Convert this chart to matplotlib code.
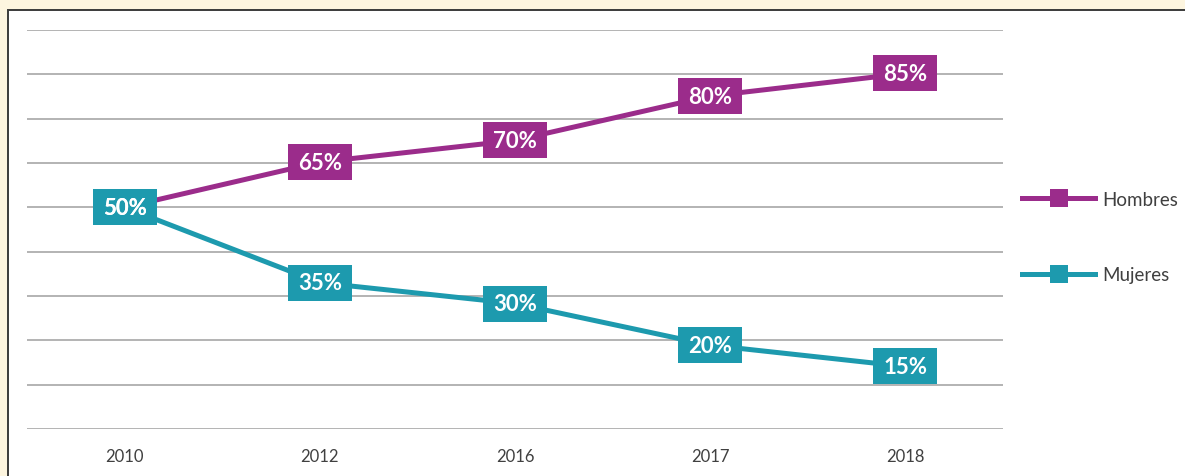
import matplotlib.pyplot as plt
from matplotlib.patches import Rectangle
from matplotlib.lines import Line2D

years = ["2010", "2012", "2016", "2017", "2018"]

# value printed in each box
hombres_labels = [50, 65, 70, 80, 85]
mujeres_labels = [50, 35, 30, 20, 15]

# where each point sits on the (unlabelled) vertical scale of the chart
hombres_pos = [50, 60.2, 65.1, 75.1, 80.2]
mujeres_pos = [50, 33.0, 28.3, 18.9, 14.1]

grid_levels = [0, 10, 20, 30, 40, 50, 60, 70, 80, 90]

purple = "#9b2c8b"
teal = "#1d9aae"
cream = "#fdf5df"

plt.rcParams["font.family"] = ["Lato", "DejaVu Sans"]

fig = plt.figure(figsize=(11.85, 4.77), dpi=100)
fig.patch.set_facecolor(cream)

# white panel with dark border, behind the axes (runs off right/bottom)
panel = Rectangle((8 / 1185, -0.5), 2.0, (477 - 11) / 477 + 0.5,
                  transform=fig.transFigure, facecolor="white",
                  edgecolor="#3a3a3a", lw=1.4, zorder=-5)
fig.patches.append(panel)

ax = fig.add_axes([27 / 1185, (477 - 430) / 477, 976 / 1185, 399 / 477])
ax.set_zorder(2)
ax.set_facecolor("none")
ax.set_xlim(-0.5, 4.5)
ax.set_ylim(0, 90)

for g in grid_levels:
    ax.axhline(g, color="#b3b3b3", lw=1.4, zorder=1)

for s in ax.spines.values():
    s.set_visible(False)
ax.set_yticks([])
ax.set_xticks(range(len(years)))
ax.set_xticklabels(years, fontsize=12, color="#404040")
ax.tick_params(axis="x", length=0, pad=14)

x = list(range(len(years)))
box = [(-1, -0.556), (1, -0.556), (1, 0.556), (-1, 0.556), (-1, -0.556)]

for pos, labels, col in [(hombres_pos, hombres_labels, purple),
                         (mujeres_pos, mujeres_labels, teal)]:
    ax.plot(x, pos, color=col, lw=3.6, zorder=2, solid_capstyle="butt")
    ax.plot(x, pos, ls="none", marker=box, markersize=45.4,
            markerfacecolor=col, markeredgewidth=0, zorder=3)
    for xi, yi, lab in zip(x, pos, labels):
        ax.text(xi, yi, f"{lab}%", color="white", fontsize=16,
                fontweight="bold", ha="center", va="center", zorder=4)

handles = [
    Line2D([], [], color=purple, lw=3.6, marker="s", markersize=13.5,
           markeredgewidth=0),
    Line2D([], [], color=teal, lw=3.6, marker="s", markersize=13.5,
           markeredgewidth=0),
]
leg = fig.legend(handles, ["Hombres", "Mujeres"], loc="center left",
                 bbox_to_anchor=(1022 / 1185, 1 - 238 / 477), frameon=False,
                 fontsize=13.5, handlelength=3.9, handletextpad=0.4,
                 labelspacing=3.1, borderpad=0, borderaxespad=0,
                 labelcolor="#404040")
leg.set_zorder(3)

fig.savefig("out.png", dpi=100, facecolor=cream)
